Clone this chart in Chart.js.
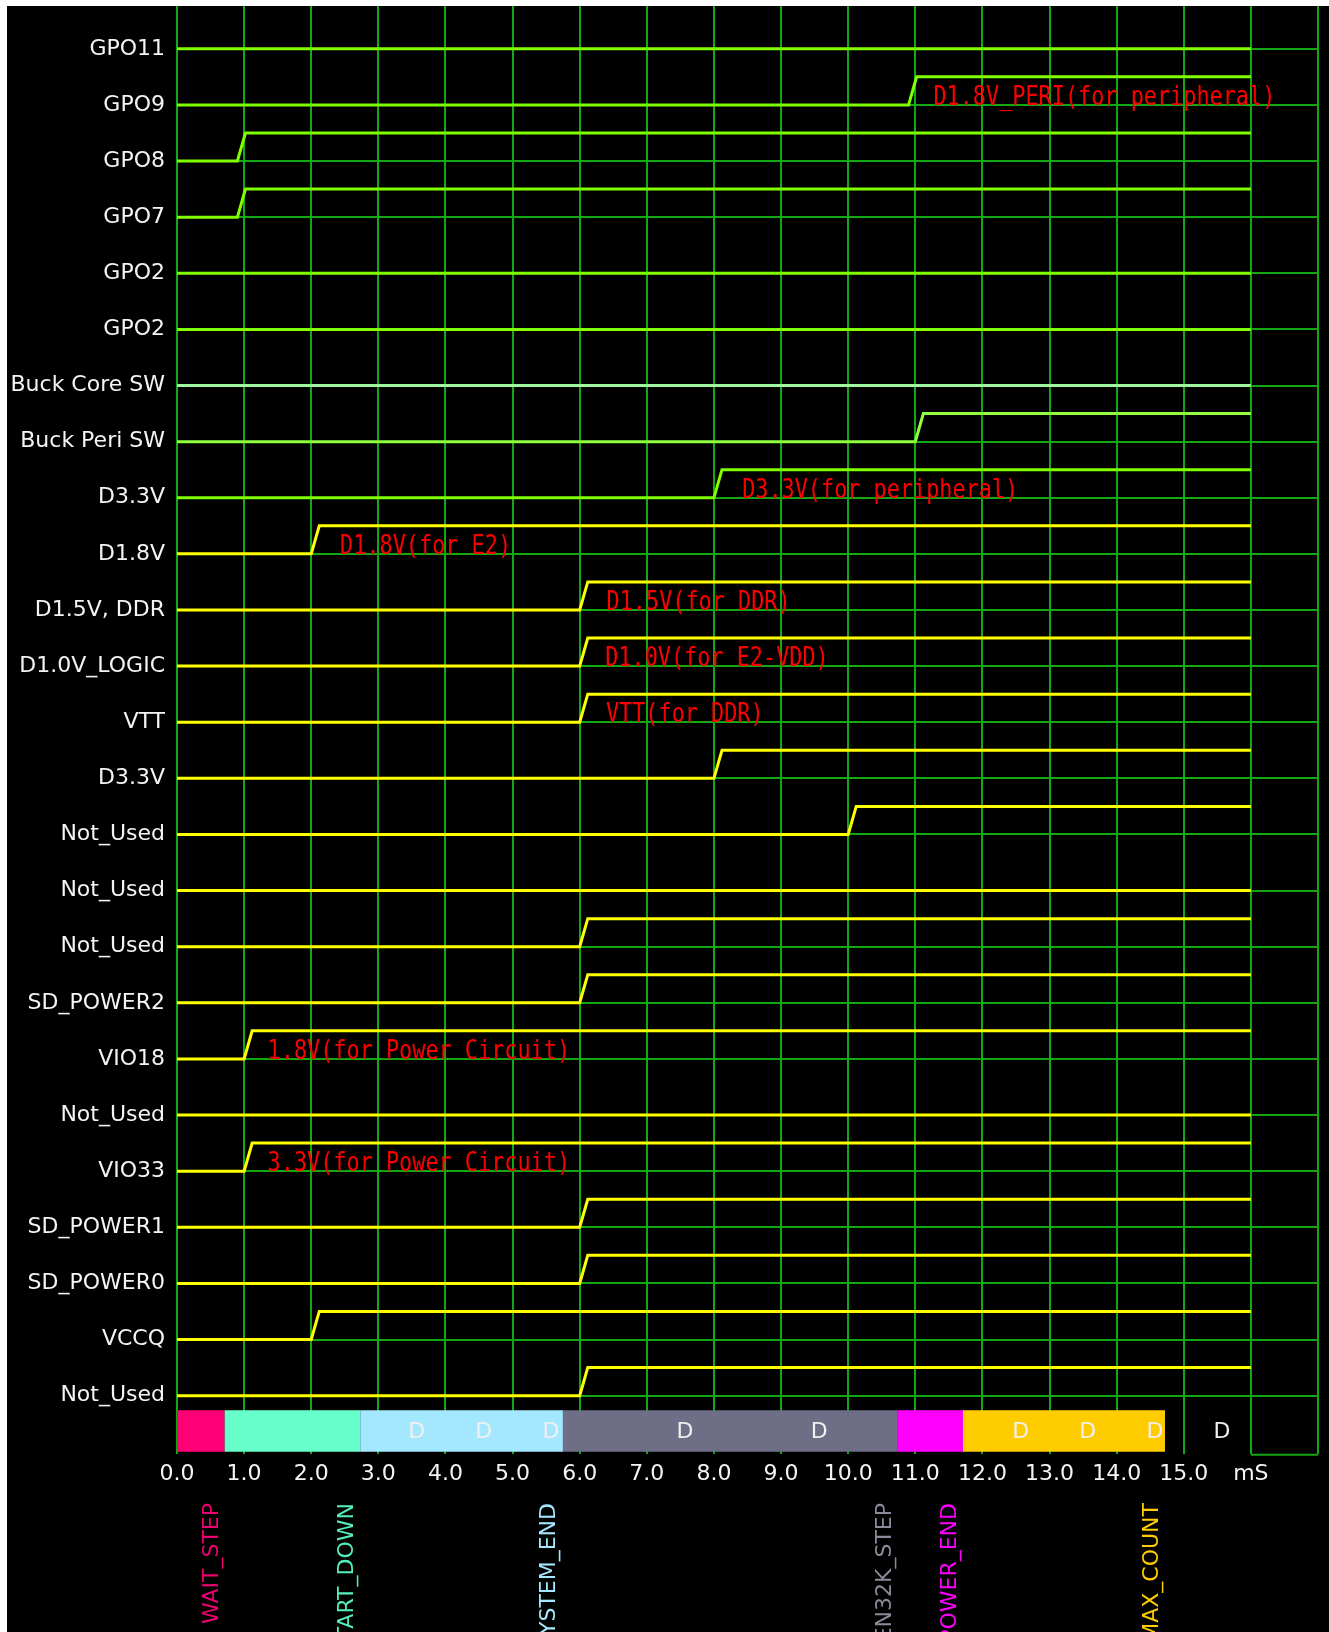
<!DOCTYPE html>
<html><head><meta charset="utf-8">
<script src="https://cdn.jsdelivr.net/npm/chart.js@4"></script>
<style>
html,body{margin:0;padding:0;background:#fff;overflow:hidden;}
#wrap{position:absolute;left:7px;top:6px;width:1322px;height:1626px;background:#000;overflow:hidden;}
</style></head><body>
<div id="wrap"><canvas id="c"></canvas></div>
<script>
// ---- data ----
const signalNames = ['GPO11','GPO9','GPO8','GPO7','GPO2','GPO2','Buck Core SW','Buck Peri SW','D3.3V','D1.8V',
  'D1.5V, DDR','D1.0V_LOGIC','VTT','D3.3V','Not_Used','Not_Used','Not_Used','SD_POWER2','VIO18','Not_Used',
  'VIO33','SD_POWER1','SD_POWER0','VCCQ','Not_Used'];
const signalColors = ['#80ff00','#80ff00','#80ff00','#80ff00','#80ff00','#80ff00','#a0f8a0','#90ff40','#80ff00','#ffff00',
  '#ffff00','#ffff00','#ffff00','#ffff00','#ffff00','#ffff00','#ffff00','#ffff00','#ffff00','#ffff00',
  '#ffff00','#ffff00','#ffff00','#ffff00','#ffff00'];
// time (mS) at which each signal starts rising; null = stays low
const riseStart = [null,10.9,0.9,0.9,null,null,null,11.0,8.0,2.0,
  6.0,6.0,6.0,8.0,10.0,null,6.0,6.0,1.0,null,
  1.0,6.0,6.0,2.0,6.0];
const rampDuration = 0.12;
const signalEnd = 16;
const xTickLabels = ['0.0','1.0','2.0','3.0','4.0','5.0','6.0','7.0','8.0','9.0','10.0','11.0','12.0','13.0','14.0','15.0','mS',''];
const annotRows = [1,8,9,10,11,12,18,20];
const annotX = [11.27,8.42,2.43,6.40,6.38,6.39,1.35,1.35];
const annotTexts = ['D1.8V_PERI(for peripheral)','D3.3V(for peripheral)','D1.8V(for E2)','D1.5V(for DDR)',
  'D1.0V(for E2-VDD)','VTT(for DDR)','1.8V(for Power Circuit)','3.3V(for Power Circuit)'];
const stateEdges = [0,0.71,2.73,5.75,10.74,11.71,14.72];
const stateColors = ['#ff0077','#66ffcc','#a4e8ff','#6e6e86','#ff00ff','#ffcc00'];
const stateNames = ['WAIT_STEP','START_DOWN','SYSTEM_END','GEN32K_STEP','POWER_END','MAX_COUNT'];
const stateTextColors = ['#ee0070','#55eebb','#a4e8ff','#8a8a9a','#ff00ff','#ffcc00'];
const stateLabelX = [0.52,2.54,5.55,10.55,11.52,14.53];
const dMarkX = [3.57,4.57,5.57,7.57,9.57,12.57,13.57,14.57,15.57];

// ---- build datasets ----
const datasets = signalNames.map((n,i)=>{
  const t = riseStart[i];
  const data = t===null ? [{x:0,y:i},{x:signalEnd,y:i}]
    : [{x:0,y:i},{x:t,y:i},{x:t+rampDuration,y:i-0.5},{x:signalEnd,y:i-0.5}];
  return {label:n,data,borderColor:signalColors[i],borderWidth:3,pointRadius:0,tension:0,fill:false};
});

const overlay = {
  id:'overlay',
  afterDatasetsDraw(chart){
    const {ctx, scales:{x,y}} = chart;
    ctx.save();
    // annotations
    ctx.fillStyle='#ff0000';
    ctx.font='26px "DejaVu Sans Mono"';
    ctx.textBaseline='alphabetic';
    ctx.textAlign='left';
    annotRows.forEach((r,k)=>{
      const px=x.getPixelForValue(annotX[k]);
      const py=y.getPixelForValue(r);
      ctx.save(); ctx.translate(px,py); ctx.scale(0.84,1); ctx.fillText(annotTexts[k],0,0); ctx.restore();
    });
    // state bar
    const yt=y.getPixelForValue(24.26), yb=y.getPixelForValue(25.0);
    for(let k=0;k<stateColors.length;k++){
      const x0=x.getPixelForValue(stateEdges[k]), x1=x.getPixelForValue(stateEdges[k+1]);
      ctx.fillStyle=stateColors[k];
      ctx.fillRect(x0,yt,x1-x0,yb-yt);
    }
    ctx.fillStyle='#f0f0f0';
    ctx.font='22px "DejaVu Sans"';
    ctx.textAlign='center';
    ctx.textBaseline='middle';
    dMarkX.forEach(v=>ctx.fillText('D',x.getPixelForValue(v),(yt+yb)/2+1));
    // bottom border piece
    ctx.strokeStyle='#12a812'; ctx.lineWidth=2;
    ctx.beginPath(); ctx.moveTo(x.getPixelForValue(16),yb+3); ctx.lineTo(x.getPixelForValue(17),yb+3); ctx.stroke();
    ctx.restore();
  },
  afterDraw(chart){
    const {ctx, scales:{x}} = chart;
    ctx.save();
    ctx.font='22px "DejaVu Sans"';
    ctx.textAlign='right';
    ctx.textBaseline='middle';
    stateNames.forEach((s,k)=>{
      ctx.save();
      ctx.translate(x.getPixelForValue(stateLabelX[k]), x.top+49);
      ctx.rotate(-Math.PI/2);
      ctx.fillStyle=stateTextColors[k];
      ctx.fillText(s,0,0);
      ctx.restore();
    });
    ctx.restore();
  }
};

new Chart(document.getElementById('c'),{
  type:'line',
  data:{datasets},
  options:{
    responsive:true, maintainAspectRatio:false, animation:false, devicePixelRatio:1,
    layout:{padding:{top:0,right:11,bottom:0,left:0}},
    plugins:{legend:{display:false},tooltip:{enabled:false}},
    scales:{
      x:{type:'linear',min:0,max:17,
        afterBuildTicks(s){s.ticks=xTickLabels.map((_,i)=>({value:i}));},
        afterFit(s){s.height=178;s.paddingLeft=0;s.paddingRight=0;},
        grid:{color:'#12a812',lineWidth:2,drawTicks:false},
        border:{display:false},
        ticks:{autoSkip:false,maxRotation:0,padding:7,color:'#f4f4f4',font:{family:'DejaVu Sans',size:22},
          callback:(v,i)=>xTickLabels[i]}
      },
      y:{type:'linear',reverse:true,min:-0.7627,max:25.04,
        afterBuildTicks(s){s.ticks=signalNames.map((_,i)=>({value:i}));},
        afterFit(s){s.width=170;s.paddingTop=0;s.paddingBottom=0;},
        grid:{color:'#12a812',lineWidth:2,drawTicks:false},
        border:{display:false},
        ticks:{autoSkip:false,padding:12,color:'#f4f4f4',font:{family:'DejaVu Sans',size:22},
          callback:(v,i)=>signalNames[i]}
      }
    }
  },
  plugins:[overlay]
});
</script>
</body></html>
